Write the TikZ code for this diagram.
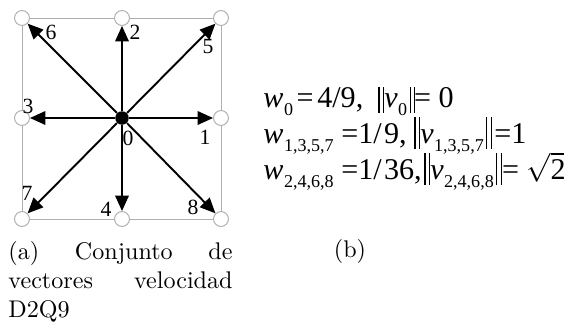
\documentclass[tikz,border=0pt]{standalone}
\usepackage{fontspec}
\usepackage{xcolor}
\usepackage{tikz}
\usetikzlibrary{arrows.meta, positioning}
\newfontfamily\timesfont{Liberation Serif}
\definecolor{gridgray}{RGB}{175,175,175}
\newcommand{\wsub}[1]{\textit{w}\kern0.2pt\raisebox{-0.6ex}{\fontsize{7.5}{8}\selectfont #1}}
\newcommand{\vsub}[1]{\textit{v}\kern0.2pt\raisebox{-0.6ex}{\fontsize{7.5}{8}\selectfont #1}}
\newcommand{\nbar}[1][10.5pt]{\rule[-2.4pt]{0.5pt}{#1}\kern1.4pt\rule[-2.4pt]{0.5pt}{#1}}

\begin{document}
\begin{tikzpicture}[
    x=0.415pt, y=-0.415pt,
    site/.style={circle, draw=gridgray, line width=0.4pt, fill=white, minimum size=6.2pt, inner sep=0pt},
    vec/.style={line width=0.8pt, -{Triangle[length=6.4pt, width=5.6pt]}},
    lbl/.style={font=\timesfont\fontsize{9}{9}\selectfont, inner sep=0pt},
    eq/.style={font=\timesfont\fontsize{12.5}{15}\selectfont, anchor=base west, inner sep=0pt}
]
\useasboundingbox (0,0) rectangle (564,322);

% Lattice sites
\node[site] (c6) at (22,18) {};
\node[site] (c2) at (122,18) {};
\node[site] (c5) at (221,18) {};
\node[site] (c3) at (22,118) {};
\node[site] (c1) at (221,118) {};
\node[site] (c7) at (22,219) {};
\node[site] (c4) at (122,219) {};
\node[site] (c8) at (221,219) {};
\node[circle, fill=black, minimum size=5.6pt, inner sep=0pt] (c0) at (122,118) {};

% Cell border
\begin{scope}[on background layer/.try]
\foreach \a/\b in {6/2, 2/5, 5/1, 1/8, 8/4, 4/7, 7/3, 3/6} {
    \draw[gridgray, line width=0.4pt] (c\a) -- (c\b);
}
\end{scope}

% Velocity vectors
\foreach \i in {1,...,8} {
    \draw[vec] (c0) -- (c\i);
}

% Direction labels
\node[lbl] (l0) at (128,138) {0};
\node[lbl] (l1) at (205,137) {1};
\node[lbl] (l2) at (135,32) {2};
\node[lbl] (l3) at (28,106) {3};
\node[lbl] (l4) at (106,209) {4};
\node[lbl] (l5) at (208,47) {5};
\node[lbl] (l6) at (51,32) {6};
\node[lbl] (l7) at (27,193) {7};
\node[lbl] (l8) at (193,207) {8};

% Weights and speeds
\node[eq] (w0) at (263,107) {\wsub{0}\kern1.5pt=\kern1.5pt4/9,};
\node[eq] (n0) at (378,107) {\nbar\vsub{0}\kern1pt\nbar\kern-0.5pt= 0};
\node[eq] (w1) at (263,143) {\wsub{1,3,5,7} =1/\kern1pt9,};
\node[eq] (n1) at (414,143) {\nbar[13pt]\vsub{1,3,5,7}\kern1pt\nbar[13pt]\kern1pt=1};
\node[eq] (w2) at (263,179) {\wsub{2,4,6,8} =1/\kern1pt36,};
\node[eq] (n2) at (424,179) {\nbar[13pt]\vsub{2,4,6,8}\kern1pt\nbar[13pt]= $\sqrt{\mbox{\timesfont 2}}$};

% Captions
\node[anchor=north west, inner sep=0pt, text width=93pt, align=justify] (capA) at (8,241)
    {(a) Conjunto de \mbox{vectores} velocidad D2Q9};
\node[anchor=base, inner sep=0pt] (capB) at (350,257) {(b)};

\end{tikzpicture}
\end{document}
